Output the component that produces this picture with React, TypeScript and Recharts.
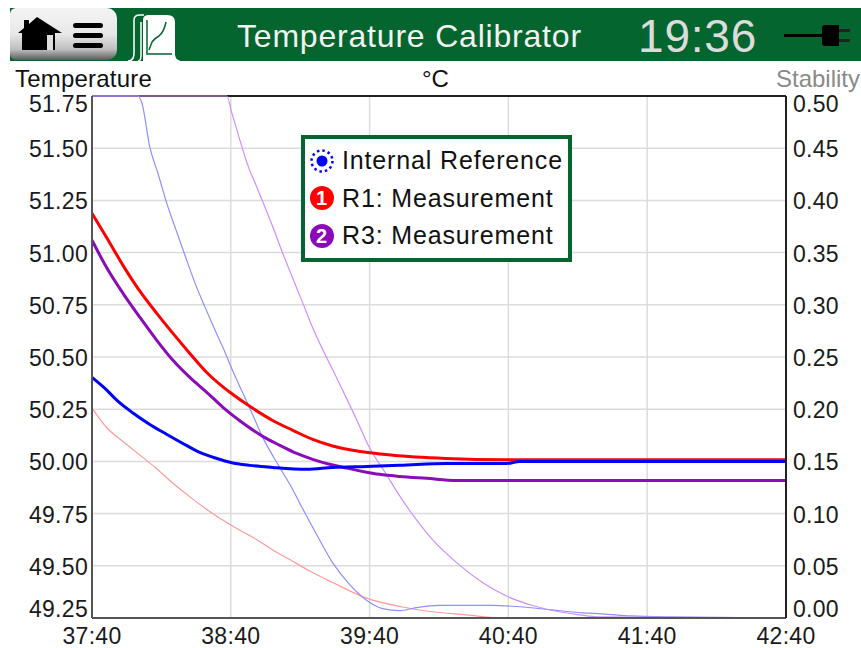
import { ComposedChart, Line, XAxis, YAxis, CartesianGrid, ReferenceLine } from "recharts";

const GREEN = "#05652f";
const FONT = "'Liberation Sans', Arial, sans-serif";

const timeTicks = [0, 60, 120, 180, 240, 300];
const timeLabels = ["37:40", "38:40", "39:40", "40:40", "41:40", "42:40"];
const tempTicks = [49.25, 49.5, 49.75, 50, 50.25, 50.5, 50.75, 51, 51.25, 51.5, 51.75];
const stabilityTicks = [0, 0.05, 0.1, 0.15, 0.2, 0.25, 0.3, 0.35, 0.4, 0.45, 0.5];

const r1Seconds = [0, 6.5, 13.4, 20.7, 28, 35, 42.3, 49.6, 56.6, 59.6, 69.5, 78.1, 86.8, 95.4, 104, 112.7, 120, 130, 153, 179, 300];
const r1Temp = [51.188, 51.069, 50.939, 50.815, 50.709, 50.613, 50.517, 50.426, 50.357, 50.331, 50.254, 50.196, 50.149, 50.105, 50.074, 50.053, 50.041, 50.029, 50.014, 50.008, 50.008];

const r3Seconds = [0, 6.5, 13.4, 20.7, 28, 35, 42.3, 49.6, 56.6, 63.9, 73.8, 81.2, 88.5, 95.4, 102.7, 110, 117, 124.3, 133, 144.6, 157.6, 300];
const r3Temp = [51.059, 50.925, 50.805, 50.69, 50.58, 50.484, 50.402, 50.331, 50.259, 50.195, 50.12, 50.077, 50.038, 50.01, 49.986, 49.968, 49.952, 49.938, 49.928, 49.919, 49.909, 49.909];

const refSeconds = [0, 6.5, 10.8, 17.7, 25, 32.4, 39.3, 46.6, 54, 60, 68.2, 78.1, 92.8, 104, 118.7, 133, 153.3, 179.2, 184.8, 300];
const refTemp = [50.402, 50.34, 50.292, 50.232, 50.177, 50.129, 50.086, 50.043, 50.014, 49.995, 49.981, 49.971, 49.962, 49.971, 49.976, 49.981, 49.99, 49.99, 50, 50];

const r1StabSeconds = [0, 6.5, 13.4, 20.7, 28, 35, 42.3, 49.6, 60, 71.2, 79.9, 85.5, 94.1, 104, 118.7, 133, 147.2, 161.9, 176, 300];
const r1Stab = [0.201, 0.182, 0.169, 0.156, 0.143, 0.129, 0.116, 0.104, 0.089, 0.075, 0.063, 0.056, 0.045, 0.034, 0.019, 0.011, 0.006, 0.003, 0, 0];

const refStabSeconds = [0, 19.9, 21.6, 25, 28.5, 32.8, 35.8, 40.1, 44.5, 48.8, 53.1, 57.4, 60.4, 63, 68.2, 73.8, 81.2, 86.3, 89.8, 97.1, 104, 111.4, 118.7, 125.6, 133, 140.3, 150.2, 173.1, 183.5, 197.7, 212, 220.6, 233.1, 249.5, 300];
const refStab = [0.5, 0.5, 0.493, 0.451, 0.426, 0.394, 0.375, 0.348, 0.321, 0.298, 0.276, 0.255, 0.239, 0.226, 0.201, 0.173, 0.144, 0.125, 0.11, 0.08, 0.053, 0.032, 0.017, 0.009, 0.007, 0.01, 0.012, 0.012, 0.011, 0.008, 0.005, 0.004, 0.002, 0.001, 0];

const r3StabSeconds = [0, 58.3, 60.4, 63.9, 67.3, 71.2, 74.7, 78.1, 82, 86.3, 90.7, 95.4, 106.2, 114.4, 120, 127.4, 133, 140.3, 147.2, 157.6, 168.8, 179.2, 190.4, 202, 210.7, 219.3, 300];
const r3Stab = [0.5, 0.5, 0.484, 0.458, 0.434, 0.413, 0.394, 0.375, 0.352, 0.328, 0.304, 0.278, 0.228, 0.19, 0.163, 0.137, 0.117, 0.094, 0.075, 0.053, 0.034, 0.021, 0.012, 0.006, 0.003, 0.001, 0];

const toPoints = (seconds: number[], values: number[]) => seconds.map((t, i) => ({ t, v: values[i] }));

const tickFont = { fontFamily: FONT, fontSize: 23, letterSpacing: 0.3, fill: "#1a1a1a" };

// end labels on the value axes sit inside the plot's height
function ValueTick({ x, y, payload, anchor, index, count }: any) {
  let dy = 9;
  if (index === 0) dy = -1;
  if (index === count - 1) dy = 16;
  return (
    <text x={x} y={y + dy} textAnchor={anchor} {...tickFont}>
      {payload.value.toFixed(2)}
    </text>
  );
}

function HeaderBar() {
  return (
    <div style={{ position: "absolute", left: 10, top: 8, width: 851, height: 53, background: GREEN }}>
      <div
        style={{
          position: "absolute",
          left: 0,
          top: 0,
          width: 107,
          height: 52,
          borderRadius: "6px 10px 10px 6px",
          background: "linear-gradient(#f4f4f4 0%, #e8e8e8 50%, #bdbdbd 80%, #5a5a5a 100%)",
        }}
      >
        <svg width={107} height={52}>
          <path d="M8 25 L14 20 L14 12 L19 12 L19 16 L27 9 L52 25 L45 25 L45 42 L12 42 L12 25 Z" fill="#000" />
          <rect x={37} y={27} width={6} height={15} fill="#ddd" />
          <rect x={63} y={15} width={30} height={5} rx={2.5} fill="#000" />
          <rect x={63} y={25} width={30} height={5} rx={2.5} fill="#000" />
          <rect x={63} y={35} width={30} height={5} rx={2.5} fill="#000" />
        </svg>
      </div>
      <svg style={{ position: "absolute", left: 115, top: 0 }} width={55} height={53}>
        <path d="M18 53 L18 12 Q18 7 24 7 L42 7 Q50 7 50 14 L50 46 Q50 53 58 53 Z" fill="#fff" />
        <path d="M3 53 Q9 53 9 45 L9 12 Q9 7 15 7 L19 7" stroke="#fff" strokeWidth={1.5} fill="none" />
        <path d="M13 53 Q16 53 16 47 L16 14" stroke="#fff" strokeWidth={1.5} fill="none" />
        <path d="M22 12 L22 46 L47 46" stroke={GREEN} strokeWidth={1.5} fill="none" />
        <path d="M24 42 L27 34 Q30 30 34 28 Q39 24 41 14" stroke={GREEN} strokeWidth={1.5} fill="none" />
      </svg>
      <div
        style={{
          position: "absolute",
          left: 227,
          top: 10,
          fontFamily: FONT,
          fontSize: 32,
          lineHeight: "36px",
          letterSpacing: 0.8,
          color: "#f2f2f2",
          whiteSpace: "nowrap",
        }}
      >
        Temperature Calibrator
      </div>
      <div
        style={{
          position: "absolute",
          left: 628,
          top: 3,
          fontFamily: FONT,
          fontSize: 46,
          lineHeight: "50px",
          letterSpacing: 0.8,
          color: "#dcdcdc",
          whiteSpace: "nowrap",
        }}
      >
        19:36
      </div>
      <svg style={{ position: "absolute", left: 773, top: 15 }} width={70} height={26}>
        <rect x={1} y={11} width={40} height={3} fill="#000" />
        <path d="M39 5 Q39 2 42 2 L56 2 L56 23 L42 23 Q39 23 39 20 Z" fill="#000" />
        <rect x={56} y={6} width={11} height={3} fill="#222" />
        <rect x={56} y={16} width={11} height={3} fill="#222" />
      </svg>
    </div>
  );
}

function LegendBadge({ color, label }: { color: string; label: string }) {
  return (
    <svg width={26} height={26} style={{ flex: "none" }}>
      <circle cx={13} cy={13} r={12} fill={color} />
      <text x={13} y={20} textAnchor="middle" fontFamily={FONT} fontSize={20} fontWeight={700} fill="#fff">
        {label}
      </text>
    </svg>
  );
}

function ChartLegend() {
  const row = { display: "flex", alignItems: "center", gap: 7, height: 37.5, whiteSpace: "nowrap" } as const;
  return (
    <div
      style={{
        position: "absolute",
        left: 301,
        top: 135,
        width: 259,
        height: 116,
        boxSizing: "content-box",
        border: `4px solid ${GREEN}`,
        background: "#fff",
        padding: "3px 0 0 4px",
        fontFamily: FONT,
        fontSize: 25,
        letterSpacing: 0.85,
        color: "#111",
      }}
    >
      <div style={row}>
        <svg width={26} height={26} style={{ flex: "none" }}>
          <circle cx={13} cy={13} r={5.5} fill="#0000ff" />
          <circle cx={13} cy={13} r={10.5} fill="none" stroke="#0000ff" strokeWidth={2.5} strokeDasharray="2.5 3" />
        </svg>
        <span>Internal Reference</span>
      </div>
      <div style={row}>
        <LegendBadge color="#ff0000" label="1" />
        <span>R1: Measurement</span>
      </div>
      <div style={row}>
        <LegendBadge color="#8a0bb8" label="2" />
        <span>R3: Measurement</span>
      </div>
    </div>
  );
}

export default function App() {
  const axisLabel = { position: "absolute", top: 66, fontFamily: FONT, fontSize: 24, lineHeight: "26px", whiteSpace: "nowrap" } as const;
  return (
    <div style={{ position: "absolute", left: 0, top: 0, width: 861, height: 648, background: "#fff", overflow: "hidden" }}>
      <HeaderBar />
      <div style={{ ...axisLabel, left: 15, color: "#111", letterSpacing: 0.2 }}>Temperature</div>
      <div style={{ ...axisLabel, left: 422, color: "#111" }}>°C</div>
      <div style={{ ...axisLabel, right: 1, color: "#8a8a8a" }}>Stability</div>
      <div style={{ position: "absolute", left: 0, top: 0 }}>
        <ComposedChart width={861} height={648} margin={{ top: 96, right: 0, bottom: 0, left: 0 }}>
          <CartesianGrid yAxisId="temp" stroke="#dcdcdc" strokeWidth={1.5} horizontalValues={tempTicks} verticalValues={timeTicks} />
          <XAxis
            dataKey="t"
            type="number"
            domain={[0, 300]}
            ticks={timeTicks}
            height={30}
            interval={0}
            allowDuplicatedCategory={false}
            tickLine={false}
            axisLine={{ stroke: "#555", strokeWidth: 2 }}
            tick={tickFont}
            tickMargin={4}
            tickFormatter={(value: number) => timeLabels[timeTicks.indexOf(value)]}
          />
          <YAxis
            yAxisId="temp"
            type="number"
            domain={[49.25, 51.75]}
            ticks={tempTicks}
            width={92}
            interval={0}
            tickLine={false}
            axisLine={{ stroke: "#555", strokeWidth: 2 }}
            tick={(props: any) => <ValueTick {...props} x={88} anchor="end" count={tempTicks.length} />}
          />
          <YAxis
            yAxisId="stability"
            orientation="right"
            type="number"
            domain={[0, 0.5]}
            ticks={stabilityTicks}
            width={75}
            interval={0}
            tickLine={false}
            axisLine={{ stroke: "#222", strokeWidth: 2 }}
            tick={(props: any) => <ValueTick {...props} x={793} anchor="start" count={stabilityTicks.length} />}
          />
          <ReferenceLine yAxisId="temp" y={51.75} stroke="#222" strokeWidth={2} />
          <Line yAxisId="stability" type="monotone" data={toPoints(r1StabSeconds, r1Stab)} dataKey="v" stroke="#ff9a9a" strokeWidth={1.2} dot={false} isAnimationActive={false} />
          <Line yAxisId="stability" type="monotone" data={toPoints(refStabSeconds, refStab)} dataKey="v" stroke="#8f8fff" strokeWidth={1.2} dot={false} isAnimationActive={false} />
          <Line yAxisId="stability" type="monotone" data={toPoints(r3StabSeconds, r3Stab)} dataKey="v" stroke="#cf8fff" strokeWidth={1.2} dot={false} isAnimationActive={false} />
          <Line yAxisId="temp" type="monotone" data={toPoints(r3Seconds, r3Temp)} dataKey="v" stroke="#8a0bb8" strokeWidth={3} dot={false} isAnimationActive={false} />
          <Line yAxisId="temp" type="monotone" data={toPoints(r1Seconds, r1Temp)} dataKey="v" stroke="#ff0000" strokeWidth={3} dot={false} isAnimationActive={false} />
          <Line yAxisId="temp" type="monotone" data={toPoints(refSeconds, refTemp)} dataKey="v" stroke="#0000ff" strokeWidth={3} dot={false} isAnimationActive={false} />
        </ComposedChart>
      </div>
      <ChartLegend />
    </div>
  );
}
